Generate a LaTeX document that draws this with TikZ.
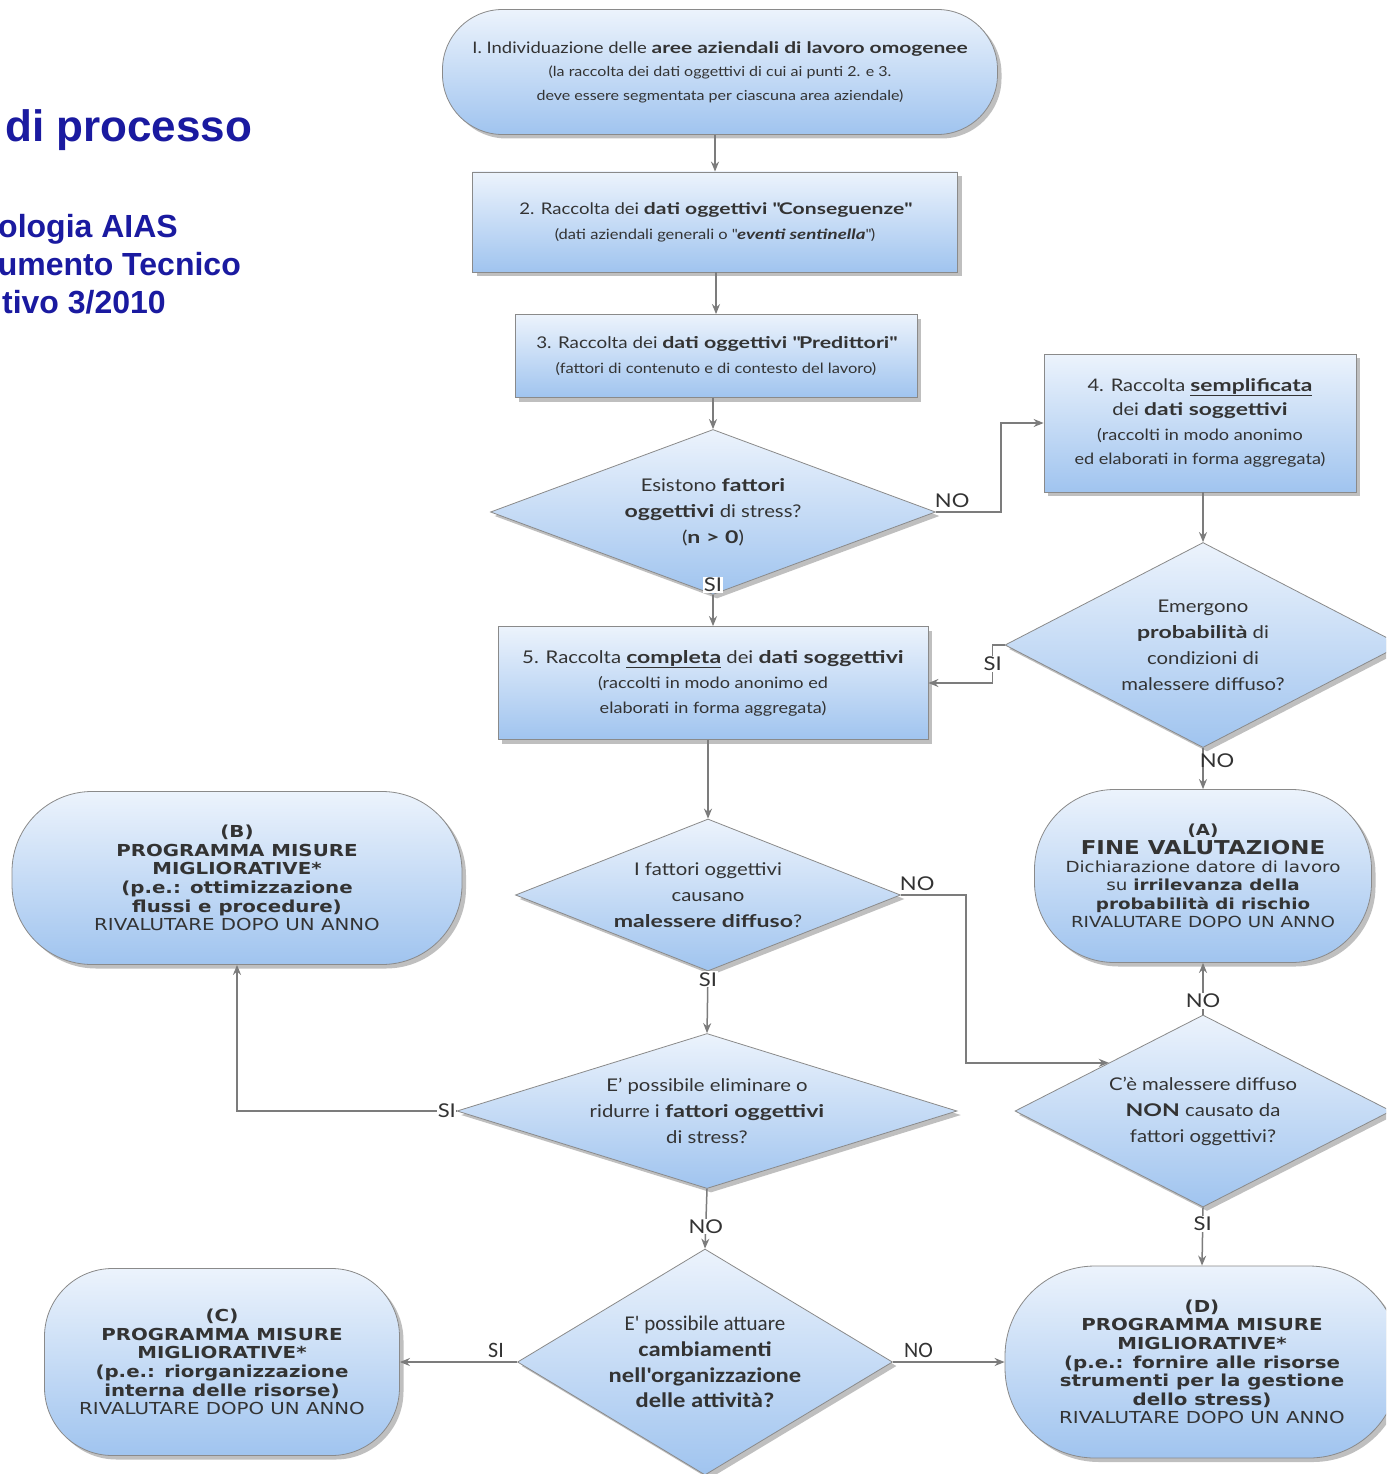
\documentclass[tikz,border=0pt]{standalone}
\usepackage{fontspec}
\setmainfont{Lato}[FakeStretch=1.16, BoldFeatures={FakeStretch=1.32}, BoldItalicFeatures={FakeStretch=1.32}]
\newfontfamily\verd{DejaVu Sans}[FakeStretch=1.2]
\newfontfamily\calib{Carlito}[BoldFeatures={FakeStretch=1.17}]
\newfontfamily\arialf{Liberation Sans}
\usetikzlibrary{shapes.geometric,shadows,arrows.meta,calc}
\definecolor{ttl}{HTML}{1A1AA0}
\definecolor{txt}{HTML}{333333}
\definecolor{lin}{HTML}{7C7C7C}
\definecolor{topc}{HTML}{ECF3FC}
\definecolor{botc}{HTML}{A0C4EF}
\definecolor{edgec}{HTML}{8A8A8A}
\newcommand\qd{\textquotedbl}
\tikzset{
  base/.style={draw=edgec, line width=0.8pt, top color=topc, bottom color=botc,
    text=txt, align=center, inner sep=0pt,
    drop shadow={shadow xshift=4pt, shadow yshift=-4pt, opacity=0.45, fill=black!55}},
  boxr/.style={base, rectangle},
  stad/.style={base, rectangle},
  dia/.style={base, diamond, font=\fontsize{17.5}{26}\selectfont},
  arr/.style={draw=lin, line width=1.5pt, -{Stealth[length=10pt,width=8pt]}},
  lab/.style={text=txt, font=\fontsize{19}{19}\selectfont, inner sep=1pt},
  labc/.style={text=txt, font=\calib\fontsize{22}{22}\selectfont, inner sep=1pt},
  ttlt/.style={text=ttl, inner sep=0pt, font=\arialf\bfseries\fontsize{32}{32}\selectfont},
  verdf/.style={font=\verd\fontsize{16.5}{18.6}\selectfont},
}
\begin{document}
\begin{tikzpicture}[x=1pt, y=-1pt]
\clip (0,0) rectangle (1386,1474);
\fill[white] (0,0) rectangle (1386,1474);

% title
\node[ttlt, anchor=base west, font=\arialf\bfseries\fontsize{44}{44}\selectfont] (t1) at (5,142) {di processo};
\node[ttlt, anchor=base east] (t2) at (178,237) {ologia AIAS};
\node[ttlt, anchor=base east] (t3) at (241,275) {umento Tecnico};
\node[ttlt, anchor=base east] (t4) at (166,313) {tivo 3/2010};

% boxes
\node[stad, rounded corners=60pt, minimum width=555pt, minimum height=125pt,
  font=\fontsize{15.9}{23.5}\selectfont] (n1) at (720,72)
  {I. Individuazione delle \textbf{aree aziendali di lavoro omogenee}\\
   {\fontsize{13.8}{23.5}\selectfont (la raccolta dei dati oggettivi di cui ai punti 2. e 3.}\\
   {\fontsize{13.8}{23.5}\selectfont deve essere segmentata per ciascuna area aziendale)}};

\node[boxr, minimum width=485pt, minimum height=100pt,
  font=\fontsize{16}{25}\selectfont] (n2) at (715,222)
  {2. Raccolta dei \textbf{dati oggettivi \qd Conseguenze\qd}\\
   {\fontsize{14.2}{25}\selectfont (dati aziendali generali o \qd\textbf{\textit{eventi sentinella}}\qd)}};

\node[boxr, minimum width=402pt, minimum height=83pt,
  font=\fontsize{16.2}{25}\selectfont] (n3) at (716,356)
  {3. Raccolta dei \textbf{dati oggettivi \qd Predittori\qd}\\
   {\fontsize{14.2}{25}\selectfont (fattori di contenuto e di contesto del lavoro)}};

\node[boxr, minimum width=312pt, minimum height=138pt,
  font=\fontsize{17.3}{24.5}\selectfont] (n4) at (1200,423)
  {4. Raccolta \underline{\textbf{semplificata}}\\
   dei \textbf{dati soggettivi}\\
   {\fontsize{15.6}{24.5}\selectfont (raccolti in modo anonimo}\\
   {\fontsize{15.6}{24.5}\selectfont ed elaborati in forma aggregata)}};

\node[dia, minimum width=445pt, minimum height=165pt, shape aspect=2.7] (d1) at (713,512)
  {Esistono \textbf{fattori}\\ \textbf{oggettivi} di stress?\\ (\textbf{n > 0})};

\node[boxr, minimum width=430pt, minimum height=113pt,
  font=\fontsize{17.5}{25}\selectfont] (n5) at (713,683)
  {5. Raccolta \underline{\textbf{completa}} dei \textbf{dati soggettivi}\\
   {\fontsize{15.6}{25}\selectfont (raccolti in modo anonimo ed}\\
   {\fontsize{15.6}{25}\selectfont elaborati in forma aggregata)}};

\node[dia, minimum width=396pt, minimum height=205pt, shape aspect=1.93] (d2) at (1203,645)
  {Emergono\\ \textbf{probabilità} di\\ condizioni di\\ malessere diffuso?};

\node[stad, rounded corners=80pt, minimum width=337pt, minimum height=173pt,
  font=\verd\fontsize{15.25}{18.4}\selectfont] (nA) at (1203,876)
  {\textbf{(A)}\\
   {\fontsize{19.1}{18.4}\selectfont\textbf{FINE VALUTAZIONE}}\\
   Dichiarazione datore di lavoro\\
   su \textbf{irrilevanza della}\\
   \textbf{probabilità di rischio}\\
   RIVALUTARE DOPO UN ANNO};

\node[stad, verdf, rounded corners=80pt, minimum width=450pt, minimum height=173pt] (nB) at (237,878)
  {\textbf{(B)}\\
   \textbf{PROGRAMMA MISURE}\\
   \textbf{MIGLIORATIVE*}\\
   \textbf{(p.e.: ottimizzazione}\\
   \textbf{flussi e procedure)}\\
   RIVALUTARE DOPO UN ANNO};

\node[dia, minimum width=385pt, minimum height=152pt, shape aspect=2.53] (d3) at (708,895)
  {I fattori oggettivi\\ causano\\ \textbf{malessere diffuso}?};

\node[dia, minimum width=500pt, minimum height=155pt, shape aspect=3.2] (d4) at (707,1111)
  {E' possibile eliminare o\\ ridurre i \textbf{fattori oggettivi}\\ di stress?};

\node[dia, minimum width=376pt, minimum height=192pt, shape aspect=1.96] (d5) at (1203,1111)
  {C'è malessere diffuso\\ \textbf{NON} causato da\\ fattori oggettivi?};

\node[dia, minimum width=375pt, minimum height=226pt, shape aspect=1.66,
  font=\calib\fontsize{21}{25.7}\selectfont] (d6) at (705,1362)
  {E' possibile attuare\\ \textbf{cambiamenti}\\ \textbf{nell'organizzazione}\\ \textbf{delle attività?}};

\node[stad, verdf, rounded corners=68pt, minimum width=355pt, minimum height=187pt] (nC) at (222,1362)
  {\textbf{(C)}\\
   \textbf{PROGRAMMA MISURE}\\
   \textbf{MIGLIORATIVE*}\\
   \textbf{(p.e.: riorganizzazione}\\
   \textbf{interna delle risorse)}\\
   RIVALUTARE DOPO UN ANNO};

\node[stad, verdf, rounded corners=90pt, minimum width=394pt, minimum height=192pt] (nD) at (1202,1362)
  {\textbf{(D)}\\
   \textbf{PROGRAMMA MISURE}\\
   \textbf{MIGLIORATIVE*}\\
   \textbf{(p.e.: fornire alle risorse}\\
   \textbf{strumenti per la gestione}\\
   \textbf{dello stress)}\\
   RIVALUTARE DOPO UN ANNO};

% connectors
\draw[arr] (n1.south -| n2.north) -- (n2.north);
\draw[arr] (n2.south -| n3.north) -- (n3.north);
\draw[arr] (n3.south -| d1.north) -- (d1.north);
\draw[arr] (d1.east) -- node[lab, pos=0.25, anchor=south, yshift=3pt]{NO} ++(65,0) |- (n4.west);
\draw[arr] (d1.south) -- node[lab, pos=0, yshift=10pt, fill=white]{SI} (n5.north);
\draw[arr] (n4.south -| d2.north) -- (d2.north);
\draw[arr] (d2.west) -- ++(-12,0) coordinate (k1) -- node[lab, fill=white]{SI} (k1 |- n5.east) -- (n5.east);
\draw[arr] (d2.south) -- node[lab, pos=0.3, xshift=14pt]{NO} (nA.north);
\draw[arr] (d3.north |- n5.south) -- (d3.north);
\draw[arr] (d3.east) -- node[lab, pos=0.25, anchor=south, yshift=3pt]{NO} ++(65,0) |- (d5.north west);
\draw[arr] (d3.south) -- node[lab, pos=0.13, fill=white]{SI} (d4.north);
\draw[arr] (d4.west) -| (nB.south);
\node[lab, fill=white, anchor=east, inner sep=0.5pt] (sib) at (d4.west) {SI};
\draw[arr] (d4.south) -- node[lab, pos=0.63, fill=white]{NO} (d6.north);
\draw[arr] (d5.north) -- node[lab, pos=0.27, fill=white]{NO} (nA.south);
\draw[arr] (d5.south) -- node[lab, pos=0.28, fill=white]{SI} (nD.north);
\draw[arr] (d6.west) -- node[labc, pos=0.18, anchor=south, yshift=3pt]{SI} (nC.east);
\draw[arr] (d6.east) -- node[labc, pos=0.23, anchor=south, yshift=3pt]{NO} (nD.west);
\end{tikzpicture}
\end{document}
